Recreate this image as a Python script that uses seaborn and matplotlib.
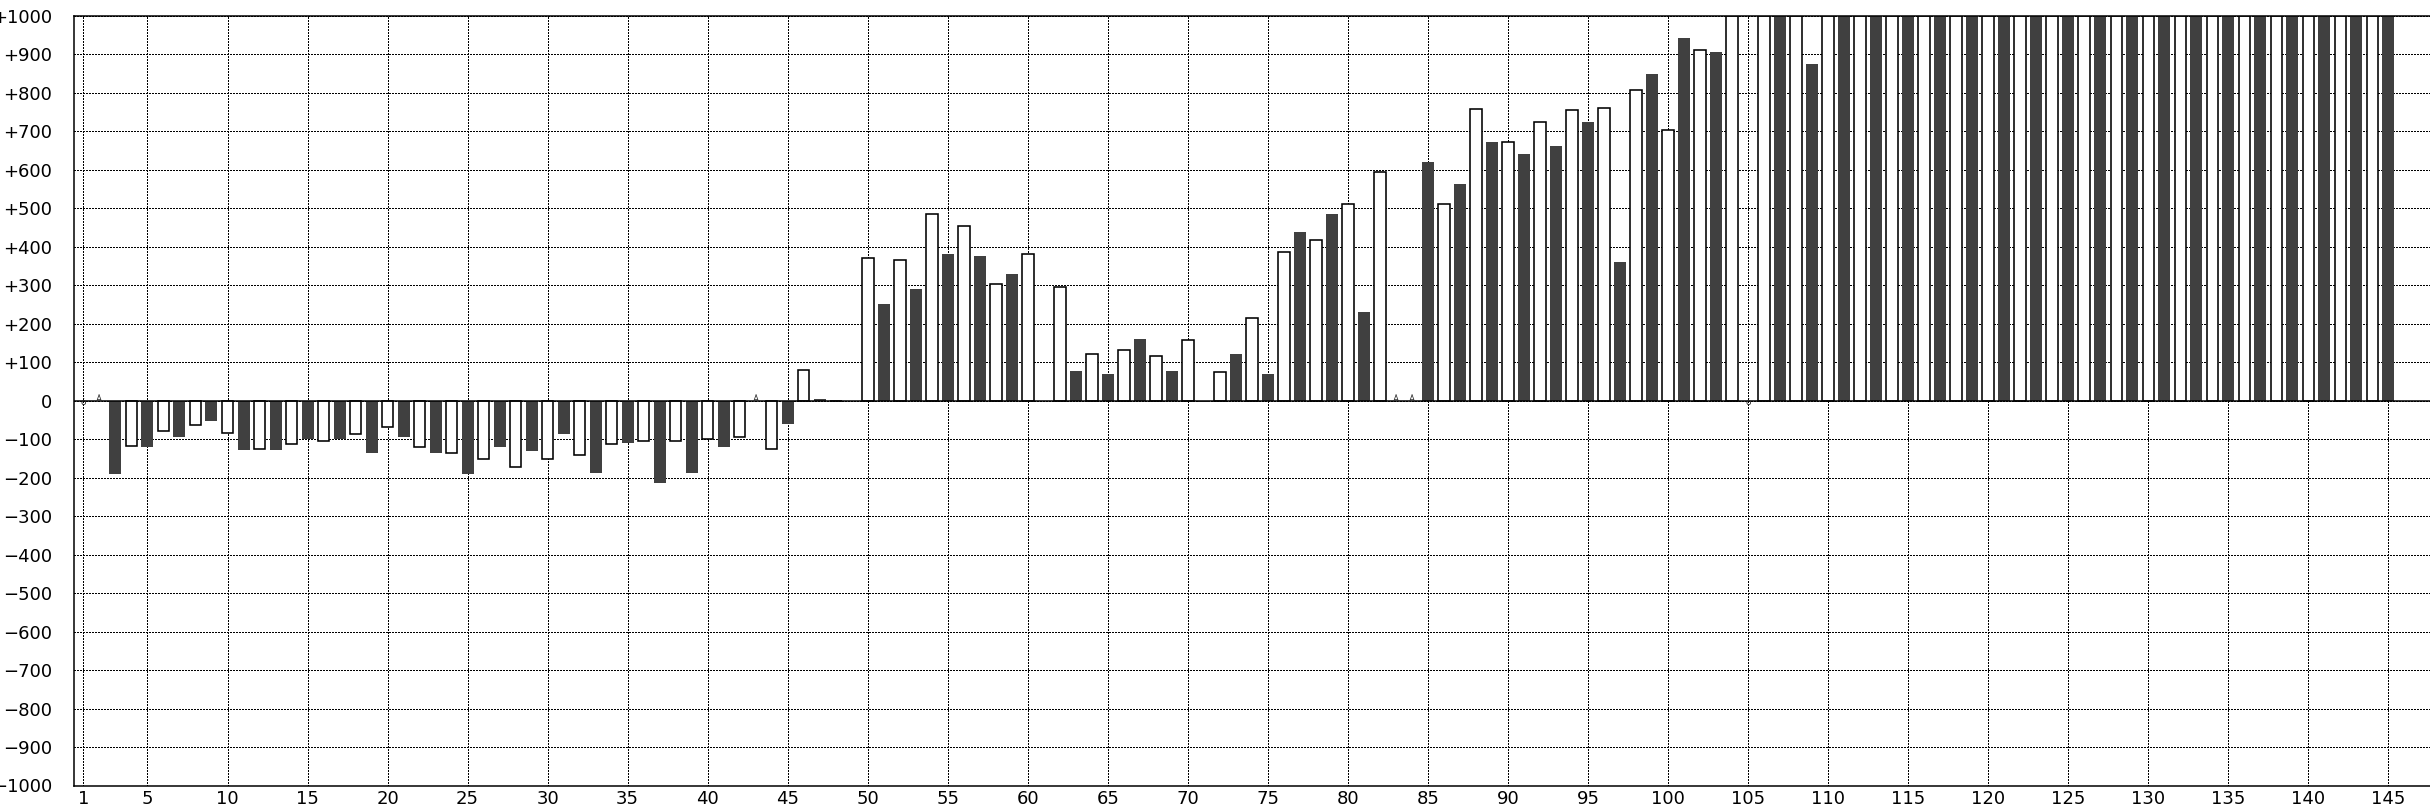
import numpy as np
import pandas as pd
import matplotlib
matplotlib.use("Agg")
import matplotlib.pyplot as plt
import seaborn as sns

# --- data (x = 1..145), None = no bar ---
CLIP = 1000  # bars that run off the top of the axis

positions = list(range(1, 146))
values = [
    None, None, -192, -118, -120, -78, -94, -63, -52, -83,          # 1-10
    -129, -125, -129, -114, -99, -104, -99, -88, -135, -68,         # 11-20
    -94, -120, -135, -136, -192, -151, -120, -172, -130, -151,      # 21-30
    -88, -141, -187, -114, -109, -104, -213, -104, -187, -99,       # 31-40
    -120, -94, None, -125, -62, 79, 4, 0, 0, 370,                   # 41-50
    250, 365, 291, 485, 380, 453, 375, 303, 328, 381,               # 51-60
    0, 296, 78, 120, 68, 131, 161, 115, 78, 157,                    # 61-70
    -4, 74, 120, 214, 68, 386, 437, 417, 484, 511,                  # 71-80
    229, 594, None, None, 619, 511, 562, 758, 671, 672,             # 81-90
    640, 724, 661, 755, 723, 760, 359, 807, 848, 703,               # 91-100
    941, 911, 905, CLIP, None, CLIP, CLIP, CLIP, 874, CLIP,         # 101-110
] + [CLIP] * 35                                                     # 111-145

# small glyphs sitting on the zero line where there is no bar
marker_o = [1, 105]
marker_a = [2, 43, 83, 84]

x_ticks = [1] + list(range(5, 146, 5))
y_ticks = list(range(-1000, 1001, 100))
y_labels = ["+%d" % v if v > 0 else ("0" if v == 0 else "\u2212%d" % -v) for v in y_ticks]

df = pd.DataFrame({"x": positions, "value": values}).dropna()
df["kind"] = np.where(df["x"] % 2 == 0, "open", "filled")

sns.set_style("white")
plt.rcParams["font.family"] = ["DejaVu Sans"]

W, H = 2430, 808
fig = plt.figure(figsize=(W / 100, H / 100), dpi=100)
ax = fig.add_axes([74 / W, 22.5 / H, 1 - 74 / W, (785.5 - 15.6) / H])

# native_scale multiplies width by the spacing (2) between odd / even positions
sns.barplot(data=df[df["kind"] == "filled"], x="x", y="value", native_scale=True,
            width=0.375, color="#404040", saturation=1, linewidth=0,
            errorbar=None, ax=ax)
sns.barplot(data=df[df["kind"] == "open"], x="x", y="value", native_scale=True,
            width=0.36, color="white", saturation=1, edgecolor="black",
            linewidth=1.15, errorbar=None, ax=ax)

for xm in marker_o:
    ax.text(xm, -4, "\u022f", ha="center", va="center", fontsize=6.5, zorder=4)
for xm in marker_a:
    ax.text(xm, 3, "\u0226", ha="center", va="center", fontsize=6.5, zorder=4)

ax.axhline(0, color="black", linewidth=1.1, zorder=3)

ax.set_xlim(0.41, 147.6)
ax.set_ylim(-1000, 1000)
ax.set_xticks(x_ticks)
ax.set_xticklabels([str(t) for t in x_ticks])
ax.set_yticks(y_ticks)
ax.set_yticklabels(y_labels)
ax.set_xlabel("")
ax.set_ylabel("")

ax.set_axisbelow(True)
ax.grid(True, color="black", linestyle=(0, (1, 1.1)), linewidth=1.0, antialiased=False)
ax.tick_params(axis="both", length=0, labelsize=13, colors="black")
ax.tick_params(axis="y", pad=15.5)
ax.tick_params(axis="x", pad=3.5)

for side in ["left", "top", "bottom"]:
    ax.spines[side].set_visible(True)
    ax.spines[side].set_color("black")
    ax.spines[side].set_linewidth(1.1)
ax.spines["right"].set_visible(False)

fig.savefig("out.png", dpi=100)
